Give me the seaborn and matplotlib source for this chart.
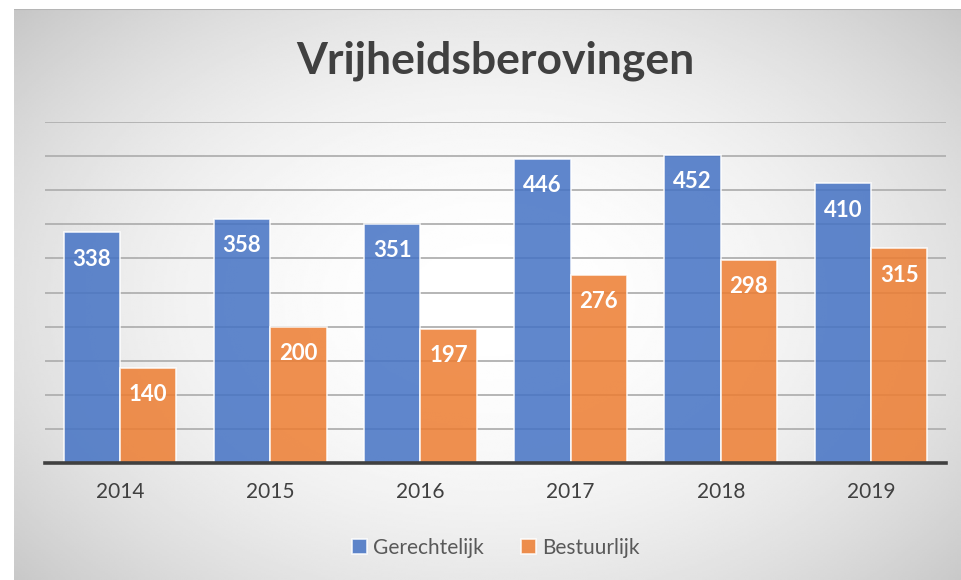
import matplotlib
matplotlib.use("Agg")
import matplotlib.pyplot as plt
import seaborn as sns
import pandas as pd
import numpy as np

# --- data ---
years = ['2014', '2015', '2016', '2017', '2018', '2019']
gerechtelijk = [338, 358, 351, 446, 452, 410]
bestuurlijk = [140, 200, 197, 276, 298, 315]
series_names = ['Gerechtelijk', 'Bestuurlijk']

df = pd.DataFrame({
    'Jaar': years * 2,
    'Aantal': gerechtelijk + bestuurlijk,
    'Type': [series_names[0]] * len(years) + [series_names[1]] * len(years),
})

# --- styling ---
sns.set_theme(style="white")
plt.rcParams['font.family'] = ['Lato', 'DejaVu Sans']

W, H = 961, 580
fig = plt.figure(figsize=(W / 100, H / 100), dpi=100)
fig.patch.set_facecolor('white')

# radial grey gradient background of the chart area
bg = fig.add_axes([14 / W, 0, 1 - 14 / W, 1 - 9 / H], zorder=-1)
gx, gy = np.meshgrid(np.linspace(14, W, 400), np.linspace(9, H, 300))
r = np.sqrt(((gx - 490) / 560) ** 2 + ((gy - 300) / 380) ** 2)
shade = 1 - 0.17 * r ** 2
bg.imshow(shade, cmap='gray', vmin=0, vmax=1, aspect='auto',
          extent=[0, 1, 0, 1], interpolation='bilinear')
bg.set_axis_off()
bg.axhline(1, color='#b5b5b5', lw=1.5)

ax = fig.add_axes([45 / W, 1 - 463 / H, (946 - 45) / W, (463 - 122) / H])
ax.set_facecolor('none')

sns.barplot(data=df, x='Jaar', y='Aantal', hue='Type',
            palette=['#4472C4', '#ED7D31'], saturation=1, width=0.75, alpha=0.85,
            edgecolor=(1, 1, 1, 0.45), linewidth=1.2, ax=ax, zorder=3)

# value labels inside the top of each bar
for container in ax.containers:
    for bar in container:
        h = bar.get_height()
        ax.annotate(f'{int(round(h))}', (bar.get_x() + bar.get_width() / 2, h),
                    xytext=(0, -27), textcoords='offset pixels',
                    ha='center', va='center', color='white',
                    fontsize=16, fontweight='bold', zorder=5)

ax.set_ylim(0, 500)
ax.set_yticks(np.arange(50, 501, 50))
ax.yaxis.grid(True, color='#b0b0b0', lw=1.3, zorder=0)
ax.set_axisbelow(True)
ax.tick_params(axis='y', left=False, labelleft=False)
ax.tick_params(axis='x', length=0, pad=14, labelsize=15, labelcolor='#404040')
ax.set_xlabel('')
ax.set_ylabel('')
for side in ['top', 'left', 'right']:
    ax.spines[side].set_visible(False)
ax.spines['bottom'].set_color('#404040')
ax.spines['bottom'].set_linewidth(2.6)
ax.spines['bottom'].set_zorder(4)

handles, labels = ax.get_legend_handles_labels()
ax.legend_.remove()
fig.legend(handles, labels, loc='center', bbox_to_anchor=(496 / W, 1 - 548 / H),
           ncol=2, frameon=False, fontsize=15, labelcolor='#595959',
           handlelength=0.7, handleheight=0.7, handletextpad=0.3,
           columnspacing=1.8)

fig.text(495 / W, 1 - 61 / H, 'Vrijheidsberovingen', ha='center', va='center',
         fontsize=32, fontweight='bold', color='#404040')

fig.savefig('out.png', dpi=100)
